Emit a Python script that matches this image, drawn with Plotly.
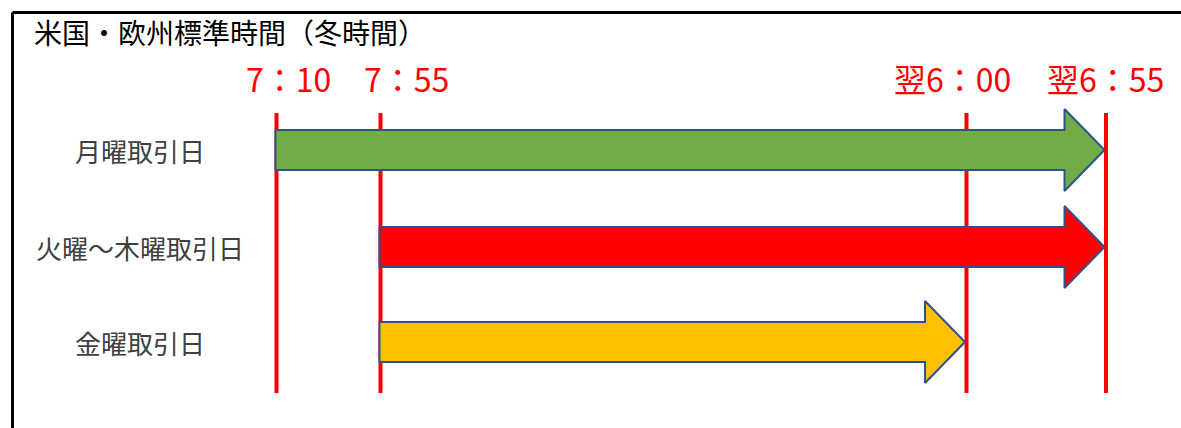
import plotly.graph_objects as go

# ---------------- data ----------------
title_text = "米国・欧州標準時間（冬時間）"
time_labels = ["7：10", "7：55", "翌6：00", "翌6：55"]
row_labels = ["月曜取引日", "火曜～木曜取引日", "金曜取引日"]
row_start = ["7：10", "7：55", "7：55"]
row_end = ["翌6：55", "翌6：55", "翌6：00"]
row_colors = ["#70AD47", "#FF0000", "#FFC000"]

# ---------------- layout constants (schematic, axis units) ----------------
W, H = 1181, 428
time_x = [276.5, 380.5, 966.5, 1106.0]      # schematic x of each time marker
label_cx = [288, 406, 952, 1105]             # x centre of each time label
label_y = 78
row_y = [150, 247, 342]
row_label_x = 140
line_top, line_bottom = 113, 393
body_half, head_half, head_len = 20, 41, 40
font = "Noto Sans CJK JP"

pos = dict(zip(time_labels, time_x))

fig = go.Figure()

# vertical red marker lines
for tx in time_x:
    fig.add_trace(go.Scatter(x=[tx, tx], y=[line_top, line_bottom], mode="lines",
                             line=dict(color="#FF0000", width=4),
                             hoverinfo="skip", showlegend=False))

# arrows
for i, (s, e, c) in enumerate(zip(row_start, row_end, row_colors)):
    x0 = pos[s] - 1
    tip = pos[e] - 1.5
    xb = tip - head_len
    yc = row_y[i]
    xs = [x0, xb, xb, tip, xb, xb, x0, x0]
    ys = [yc - body_half, yc - body_half, yc - head_half, yc,
          yc + head_half, yc + body_half, yc + body_half, yc - body_half]
    fig.add_trace(go.Scatter(x=xs, y=ys, mode="lines", fill="toself",
                             fillcolor=c, line=dict(color="#2F528F", width=2),
                             hoverinfo="skip", showlegend=False))

annotations = []
# title
annotations.append(dict(x=32, y=32, xref="x", yref="y", text=title_text,
                        showarrow=False, xanchor="left", yanchor="middle",
                        font=dict(family=font, size=28, color="#000000")))
# time labels
for lbl, cx in zip(time_labels, label_cx):
    annotations.append(dict(x=cx, y=label_y, xref="x", yref="y", text=lbl,
                            showarrow=False, xanchor="center", yanchor="middle",
                            font=dict(family=font, size=32, color="#FF0000")))
# row labels
for lbl, yc in zip(row_labels, row_y):
    annotations.append(dict(x=row_label_x, y=yc, xref="x", yref="y", text=lbl,
                            showarrow=False, xanchor="center", yanchor="middle",
                            font=dict(family=font, size=26, color="#404040")))

shapes = [
    dict(type="line", xref="x", yref="y", x0=12.5, x1=W, y0=12.5, y1=12.5,
         line=dict(color="#000000", width=3)),
    dict(type="line", xref="x", yref="y", x0=12.5, x1=12.5, y0=12.5, y1=H,
         line=dict(color="#000000", width=3)),
]

fig.update_layout(
    width=W, height=H,
    margin=dict(l=0, r=0, t=0, b=0),
    paper_bgcolor="white", plot_bgcolor="white",
    xaxis=dict(range=[0, W], visible=False, fixedrange=True),
    yaxis=dict(range=[H, 0], visible=False, fixedrange=True),
    annotations=annotations, shapes=shapes,
    showlegend=False,
)

fig.write_html("out.html", config={"displayModeBar": False},
               post_script="document.body.style.margin='0';document.body.style.overflow='hidden';")
